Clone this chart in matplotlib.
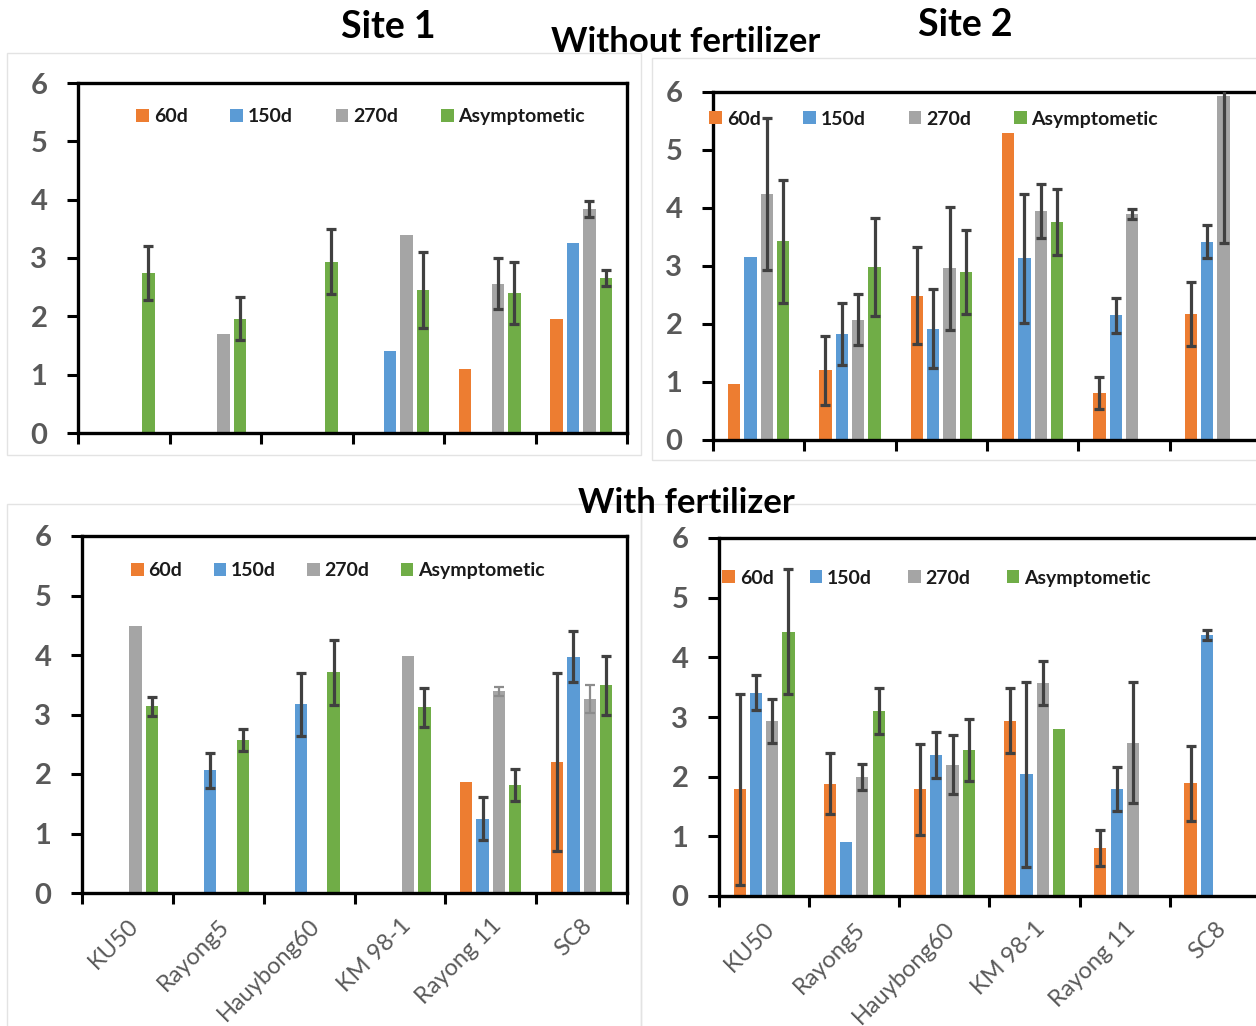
import numpy as np
import matplotlib
matplotlib.use("Agg")
import matplotlib.pyplot as plt
from matplotlib.patches import Patch, Rectangle

nan = np.nan

cultivars = ["KU50", "Rayong5", "Hauybong60", "KM 98-1", "Rayong 11", "SC8"]
series_names = ["60d", "150d", "270d", "Asymptometic"]
series_colors = ["#ED7D31", "#5B9BD5", "#A5A5A5", "#70AD47"]

# Site 1, without fertilizer (means and error half-widths)
s1_nofert_60d = [nan, nan, nan, nan, 1.10, 1.95]
s1_nofert_150d = [nan, nan, nan, 1.40, nan, 3.25]
s1_nofert_270d = [nan, 1.69, nan, 3.40, 2.56, 3.84]
s1_nofert_asym = [2.74, 1.96, 2.94, 2.45, 2.40, 2.66]
s1_nofert_60d_err = [nan, nan, nan, nan, nan, nan]
s1_nofert_150d_err = [nan, nan, nan, nan, nan, nan]
s1_nofert_270d_err = [nan, nan, nan, nan, 0.44, 0.14]
s1_nofert_asym_err = [0.46, 0.37, 0.55, 0.65, 0.53, 0.14]

# Site 2, without fertilizer
s2_nofert_60d = [0.97, 1.20, 2.49, 5.30, 0.81, 2.17]
s2_nofert_150d = [3.16, 1.83, 1.92, 3.13, 2.15, 3.42]
s2_nofert_270d = [4.24, 2.07, 2.96, 3.95, 3.90, 5.93]
s2_nofert_asym = [3.43, 2.98, 2.90, 3.76, nan, nan]
s2_nofert_60d_err = [nan, 0.60, 0.84, nan, 0.28, 0.55]
s2_nofert_150d_err = [nan, 0.53, 0.68, 1.12, 0.30, 0.29]
s2_nofert_270d_err = [1.31, 0.44, 1.06, 0.47, 0.09, 2.53]
s2_nofert_asym_err = [1.06, 0.84, 0.72, 0.57, nan, nan]

# Site 1, with fertilizer
s1_fert_60d = [nan, nan, nan, nan, 1.87, 2.20]
s1_fert_150d = [nan, 2.06, 3.17, nan, 1.25, 3.97]
s1_fert_270d = [4.49, nan, nan, 3.98, 3.39, 3.26]
s1_fert_asym = [3.14, 2.57, 3.71, 3.12, 1.82, 3.49]
s1_fert_60d_err = [nan, nan, nan, nan, nan, 1.49]
s1_fert_150d_err = [nan, 0.30, 0.53, nan, 0.36, 0.43]
s1_fert_270d_err = [nan, nan, nan, nan, 0.08, 0.24]
s1_fert_asym_err = [0.16, 0.18, 0.55, 0.33, 0.27, 0.50]

# Site 2, with fertilizer
s2_fert_60d = [1.79, 1.88, 1.79, 2.94, 0.80, 1.89]
s2_fert_150d = [3.41, 0.90, 2.36, 2.04, 1.79, 4.37]
s2_fert_270d = [2.94, 1.99, 2.20, 3.57, 2.57, nan]
s2_fert_asym = [4.43, 3.10, 2.45, 2.80, nan, nan]
s2_fert_60d_err = [1.60, 0.51, 0.76, 0.54, 0.30, 0.63]
s2_fert_150d_err = [0.30, nan, 0.39, 1.55, 0.37, 0.08]
s2_fert_270d_err = [0.37, 0.22, 0.49, 0.37, 1.01, nan]
s2_fert_asym_err = [1.05, 0.38, 0.52, nan, nan, nan]

yticks = [0, 1, 2, 3, 4, 5, 6]

FONT = "Lato"
TICK_GREY = "#595959"
ERR_DARK = "#404040"
ERR_LIGHT = "#8C8C8C"

W, H = 1256, 1026
fig = plt.figure(figsize=(W / 100, H / 100), dpi=100)
fig.patch.set_facecolor("white")


def px_rect(x0, y0, x1, y1):
    """Convert a pixel box (top-left origin) to figure-fraction [l, b, w, h]."""
    return [x0 / W, 1 - y1 / H, (x1 - x0) / W, (y1 - y0) / H]


# light chart-object borders
for (x0, y0, x1, y1) in [(7, 53, 641, 455), (652, 58, 1262, 460),
                         (7, 504, 641, 1032), (641, 504, 1262, 1032)]:
    l, b, w, h = px_rect(x0, y0, x1, y1)
    fig.add_artist(Rectangle((l, b), w, h, transform=fig.transFigure,
                             fill=False, edgecolor="#E3E3E3", lw=1.0, zorder=0))


def draw_panel(rect, means, errs, legend_xy, colspacing, show_labels,
               err_colors=None):
    ax = fig.add_axes(px_rect(*rect))
    n = len(cultivars)
    centers = np.arange(n) + 0.5
    pitch, width = 0.18, 0.135
    offsets = (np.arange(len(means)) - 1.5) * pitch
    if err_colors is None:
        err_colors = [ERR_DARK] * len(means)
    for vals, err, off, col, ecol in zip(means, errs, offsets, series_colors, err_colors):
        vals = np.asarray(vals, dtype=float)
        err = np.asarray(err, dtype=float)
        ax.bar(centers + off, vals, width=width, color=col, zorder=2)
        ok = ~np.isnan(err)
        if ok.any():
            light = ecol != ERR_DARK
            ax.errorbar((centers + off)[ok], vals[ok], yerr=err[ok], fmt="none",
                        ecolor=ecol, elinewidth=1.6 if light else 2.3,
                        capsize=3.5, capthick=1.6 if light else 2.3, zorder=3)
    ax.set_xlim(0, n)
    ax.set_ylim(0, 6)
    ax.set_yticks(yticks)
    ax.set_yticklabels([str(t) for t in yticks], fontsize=21, color=TICK_GREY,
                       family=FONT, weight="bold")
    ax.set_xticks(np.arange(n + 1))
    ax.set_xticklabels([])
    ax.tick_params(axis="both", which="major", direction="out", length=8,
                   width=2.2, color="black")
    ax.tick_params(axis="y", pad=14)
    if show_labels:
        ax.set_xticks(centers, minor=True)
        ax.set_xticklabels(cultivars, minor=True, rotation=45, ha="right",
                           va="top", rotation_mode="anchor", fontsize=17,
                           color=TICK_GREY, family=FONT)
        ax.tick_params(axis="x", which="minor", length=0, pad=16)
    for sp in ax.spines.values():
        sp.set_linewidth(2.4)
        sp.set_color("black")
    handles = [Patch(facecolor=c, edgecolor="none", label=nm)
               for c, nm in zip(series_colors, series_names)]
    ax.legend(handles=handles, loc="center left", bbox_to_anchor=legend_xy,
              ncol=4, frameon=False, handlelength=0.65, handleheight=0.65,
              handletextpad=0.25, columnspacing=colspacing, borderpad=0,
              borderaxespad=0,
              prop=dict(family=FONT, weight="bold", size=14))
    for t in ax.get_legend().get_texts():
        t.set_color("#1A1A1A")
    return ax


draw_panel((78, 83, 627, 433),
           [s1_nofert_60d, s1_nofert_150d, s1_nofert_270d, s1_nofert_asym],
           [s1_nofert_60d_err, s1_nofert_150d_err, s1_nofert_270d_err, s1_nofert_asym_err],
           (0.106, 0.903), 2.2, False)

draw_panel((713, 92, 1261, 440),
           [s2_nofert_60d, s2_nofert_150d, s2_nofert_270d, s2_nofert_asym],
           [s2_nofert_60d_err, s2_nofert_150d_err, s2_nofert_270d_err, s2_nofert_asym_err],
           (-0.007, 0.922), 2.2, False)

draw_panel((82, 536, 627, 893),
           [s1_fert_60d, s1_fert_150d, s1_fert_270d, s1_fert_asym],
           [s1_fert_60d_err, s1_fert_150d_err, s1_fert_270d_err, s1_fert_asym_err],
           (0.09, 0.902), 1.6, True,
           err_colors=[ERR_DARK, ERR_DARK, ERR_LIGHT, ERR_DARK])

draw_panel((719, 538, 1260, 896),
           [s2_fert_60d, s2_fert_150d, s2_fert_270d, s2_fert_asym],
           [s2_fert_60d_err, s2_fert_150d_err, s2_fert_270d_err, s2_fert_asym_err],
           (0.006, 0.888), 1.85, True)

# headings
title_kw = dict(family=FONT, weight="bold", color="black", ha="center", va="baseline")
fig.text(388 / W, 1 - 38 / H, "Site 1", fontsize=27, **title_kw)
fig.text(965 / W, 1 - 36 / H, "Site 2", fontsize=27, **title_kw)
fig.text(686 / W, 1 - 52 / H, "Without fertilizer", fontsize=25, **title_kw)
fig.text(686 / W, 1 - 513 / H, "With fertilizer", fontsize=25, **title_kw)

fig.savefig("out.png", dpi=100, facecolor="white")
